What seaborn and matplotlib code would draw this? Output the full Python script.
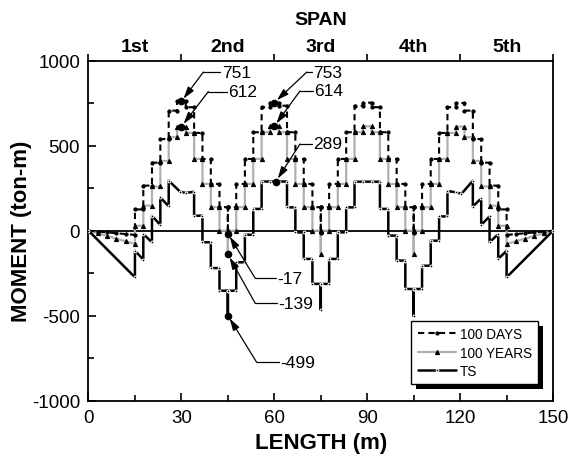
import numpy as np
import pandas as pd
import matplotlib
matplotlib.use("Agg")
import matplotlib.pyplot as plt
import seaborn as sns
from matplotlib.patches import Rectangle

sns.set_theme(style="white")
plt.rcParams['font.family'] = ['Liberation Sans', 'DejaVu Sans']
plt.rcParams['axes.unicode_minus'] = False
for k in ['text.color', 'axes.labelcolor', 'xtick.color', 'ytick.color', 'axes.edgecolor']:
    plt.rcParams[k] = 'black'

# ---------------- data ----------------
span_labels = ["1st", "2nd", "3rd", "4th", "5th"]
span_centers = [15, 45, 75, 105, 135]
span_bounds = [0, 30, 60, 90, 120, 150]

# segment joints (m)
joints = [15, 17.7, 20.5, 23.2, 25.9, 28.6, 31.4, 34.1, 36.8, 39.5, 42.3,
          45, 47.7, 50.5, 53.2, 55.9, 58.6, 61.4, 64.1, 66.8, 69.5, 72.3,
          75, 77.7, 80.5, 83.2, 85.9, 88.6, 91.4, 94.1, 96.8, 99.5, 102.3,
          105, 107.7, 110.5, 113.2, 115.9, 118.6, 121.4, 124.1, 126.8, 129.5, 132.3,
          135]
piers = [45, 75, 105]

# 100 DAYS: level on each segment between joints
days_levels = [125, 265, 400, 539, 706, 760, 726, 575, 422, 275, 138,
               138, 275, 422, 579, 726, 753, 735, 579, 422, 275, 138,
               138, 275, 422, 579, 735, 753, 726, 579, 422, 275, 138,
               138, 275, 422, 575, 726, 751, 706, 539, 400, 265, 125]
days_spikes = [-17, -15, -15]
days_end_left_x = [0, 3, 6, 9, 12, 15]
days_end_left_y = [0, -5, -10, -15, -20, -25]
days_end_right_x = [135, 138, 141, 144, 147, 150]
days_end_right_y = [-25, -20, -15, -10, -5, 0]

# 100 YEARS
years_levels = [29, 147, 260, 410, 550, 612, 575, 422, 275, 138, 0,
                0, 138, 275, 422, 579, 614, 579, 422, 275, 138, 0,
                0, 138, 275, 422, 579, 614, 579, 422, 275, 138, 0,
                0, 138, 275, 422, 575, 612, 550, 410, 260, 147, 29]
years_spikes = [-139, -137, -137]
years_end_left_x = [0, 3, 6, 9, 12, 15]
years_end_left_y = [0, -15, -30, -47, -62, -78]
years_end_right_x = [135, 138, 141, 144, 147, 150]
years_end_right_y = [-78, -62, -47, -30, -15, 0]

# TS (path vertices)
ts_x = [0, 15, 15, 17.7, 17.7, 20.5, 20.5, 23.2, 23.2, 25.9, 25.9, 29.6, 31.4, 34.1,
        34.1, 36.8, 36.8, 39.5, 39.5, 42.3, 42.3, 45, 45, 45, 47.7, 47.7, 50.5, 50.5,
        53.2, 53.2, 55.9, 55.9, 58.6, 61.4, 64.1, 64.1, 66.8, 66.8, 69.5, 69.5, 72.3,
        72.3, 75, 75, 75, 77.7, 77.7, 80.5, 80.5, 83.2, 83.2, 85.9, 85.9, 88.6, 91.4,
        94.1, 94.1, 96.8, 96.8, 99.5, 99.5, 102.3, 102.3, 105, 105, 105, 107.7, 107.7,
        110.5, 110.5, 113.2, 113.2, 115.9, 115.9, 118.6, 120.4, 124.1, 124.1, 126.8,
        126.8, 129.5, 129.5, 132.3, 132.3, 135, 135, 150]
ts_y = [0, -274, -118, -170, -20, -68, 88, 33, 196, 143, 294, 229, 222, 229,
        88, 88, -68, -68, -220, -220, -353, -353, -499, -353, -353, -186, -186, -24,
        -24, 128, 128, 289, 289, 289, 289, 137, 137, -10, -10, -166, -166,
        -313, -313, -466, -313, -313, -166, -166, -10, -10, 137, 137, 288, 288, 288,
        288, 128, 128, -29, -29, -176, -176, -343, -343, -504, -343, -343, -206,
        -206, -59, -59, 84, 84, 233, 226, 216, 294, 142, 190,
        34, 84, -68, -20, -166, -118, -274, 0]

annotations = [  # (label, x, y)
    ("751", 30, 760), ("612", 30, 612), ("753", 60, 753), ("614", 60, 614),
    ("289", 60.5, 289), ("-17", 45, -17), ("-139", 45, -139), ("-499", 45, -499)]


def step_path(end_lx, end_ly, levels, spikes, end_rx, end_ry):
    xs = list(end_lx)
    ys = list(end_ly)
    for i, lv in enumerate(levels):
        x0, x1 = joints[i], joints[i + 1]
        xs += [x0, x1]
        ys += [lv, lv]
        if x1 in piers:
            xs += [x1, x1]
            ys += [spikes[piers.index(x1)], levels[i + 1]]
    xs += list(end_rx)
    ys += list(end_ry)
    return xs, ys


dx, dy = step_path(days_end_left_x, days_end_left_y, days_levels, days_spikes,
                   days_end_right_x, days_end_right_y)
yx, yy = step_path(years_end_left_x, years_end_left_y, years_levels, years_spikes,
                   years_end_right_x, years_end_right_y)

df_days = pd.DataFrame({"x": dx, "y": dy})
df_years = pd.DataFrame({"x": yx, "y": yy})
df_ts = pd.DataFrame({"x": ts_x, "y": ts_y})

# ---------------- figure ----------------
fig = plt.figure(figsize=(5.69, 4.60), dpi=100)
ax = fig.add_axes([0.1555, 0.1267, 0.8165, 0.7393])

ax.axhline(0, color="black", lw=1.3, zorder=1)

sns.lineplot(data=df_years, x="x", y="y", sort=False, estimator=None, ax=ax,
             color="#b0b0b0", lw=1.6, marker="^", markersize=3,
             markeredgecolor="black", markerfacecolor="black", label="100 YEARS", zorder=2)
sns.lineplot(data=df_days, x="x", y="y", sort=False, estimator=None, ax=ax,
             color="black", lw=1.5, linestyle=(0, (3, 2)), marker="o", markersize=2.3,
             markeredgecolor="black", label="100 DAYS", zorder=3)
sns.lineplot(data=df_ts, x="x", y="y", sort=False, estimator=None, ax=ax,
             color="black", lw=1.8, marker="o", markersize=2.0, label="TS", zorder=4)

ax.set_xlim(0, 150)
ax.set_ylim(-1000, 1000)
ax.set_xticks([0, 30, 60, 90, 120, 150])
ax.set_xticks([15, 45, 75, 105, 135], minor=True)
ax.set_yticks([-1000, -500, 0, 500, 1000])
ax.set_yticks([-750, -250, 250, 750], minor=True)
ax.tick_params(axis="both", which="major", direction="in", length=6, width=1.2,
               labelsize=13.5, colors="black", pad=6)
ax.tick_params(axis="both", which="minor", direction="in", length=4, width=1.2,
               colors="black")
ax.tick_params(axis="y", left=True, right=False, which="both")
ax.tick_params(axis="x", bottom=True, top=False, which="both")
for s in ax.spines.values():
    s.set_linewidth(1.3)
    s.set_color("black")
ax.set_xlabel("LENGTH (m)", fontsize=16, fontweight="bold", labelpad=4, color="black")
ax.set_ylabel("MOMENT (ton-m)", fontsize=16, fontweight="bold", labelpad=0, color="black")

# top span axis
ax2 = ax.twiny()
ax2.set_xlim(0, 150)
ax2.set_xticks(span_bounds)
ax2.set_xticklabels([])
ax2.set_xticks(span_centers, minor=True)
ax2.set_xticklabels(span_labels, minor=True, fontsize=14, fontweight="bold", color="black")
ax2.tick_params(axis="x", which="major", direction="out", length=5, width=1.2, colors="black")
ax2.tick_params(axis="x", which="minor", length=0, pad=4, colors="black")
ax2.set_xlabel("SPAN", fontsize=14, fontweight="bold", labelpad=10, color="black")
for s in ax2.spines.values():
    s.set_visible(False)

# annotations
ann_text = {"751": (43.0, 933), "612": (45.0, 818), "753": (72.5, 933),
            "614": (73.0, 822), "289": (72.5, 510), "-17": (61.0, -279),
            "-139": (61.2, -426), "-499": (61.8, -774)}
ann_corner = {"751": 37.1, "612": 38.7, "753": 70.5, "614": 68.3, "289": 68.3,
              "-17": 53.8, "-139": 53.8, "-499": 54.3}
for lab, px, py in annotations:
    tx, ty = ann_text[lab]
    cx = ann_corner[lab]
    ax.text(tx, ty, lab, fontsize=12.5, va="center", ha="left", zorder=6, color="black")
    ax.plot([tx - 0.4, cx], [ty, ty], color="black", lw=0.9, zorder=6)
    ax.annotate("", xy=(px, py), xytext=(cx, ty),
                arrowprops=dict(arrowstyle="-|>,head_length=0.6,head_width=0.18",
                                color="black", lw=0.9, shrinkA=0, shrinkB=2.5),
                zorder=6)
    ax.plot([px], [py], marker="o", ms=4.5, color="black", zorder=7)

# legend
handles, labels = ax.get_legend_handles_labels()
order = [labels.index("100 DAYS"), labels.index("100 YEARS"), labels.index("TS")]
leg = ax.legend([handles[i] for i in order], [labels[i] for i in order],
                loc="lower right", bbox_to_anchor=(0.9677, 0.049), borderaxespad=0,
                fontsize=9.8, frameon=True, fancybox=False, edgecolor="black",
                framealpha=1, handlelength=2.8, borderpad=0.45, labelspacing=0.32,
                handletextpad=0.3)
leg.get_frame().set_linewidth(1.0)
for t in leg.get_texts():
    t.set_color("black")
leg.set_zorder(10)

fig.canvas.draw()
bb = leg.get_window_extent()
shadow = Rectangle((bb.x0 + 5, bb.y0 - 5), bb.width, bb.height, transform=None,
                   facecolor="black", edgecolor="none", zorder=9, clip_on=False)
ax.add_artist(shadow)
fig.savefig("out.png", dpi=100)
